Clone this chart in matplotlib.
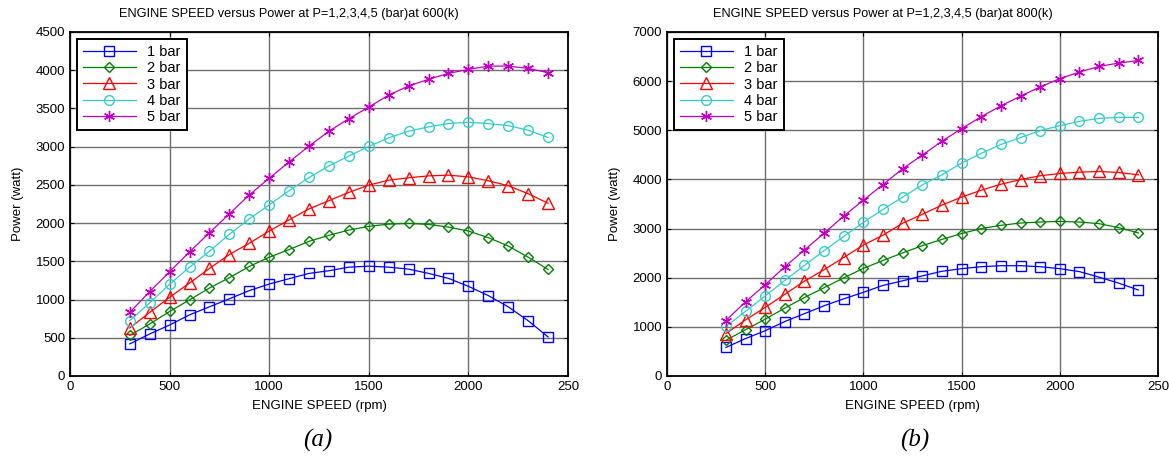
import numpy as np
import matplotlib
matplotlib.use('Agg')
import matplotlib.pyplot as plt

plt.rcParams['font.family'] = ['Liberation Sans', 'DejaVu Sans']

# 转速 (rpm)
speed = list(range(300, 2500, 100))

# (a) 600(k)
p1_a = [420, 550, 667, 800, 905, 1010, 1117, 1203, 1273, 1342, 1377, 1424,
        1437, 1424, 1398, 1342, 1277, 1173, 1052, 905, 723, 511]
p2_a = [530, 680, 844, 996, 1151, 1286, 1433, 1554, 1654, 1762, 1840, 1909,
        1957, 1987, 1996, 1983, 1948, 1896, 1810, 1701, 1554, 1394]
p3_a = [628, 831, 1030, 1216, 1407, 1589, 1736, 1896, 2043, 2186, 2294, 2402,
        2497, 2562, 2593, 2618, 2627, 2605, 2554, 2489, 2385, 2260]
p4_a = [723, 957, 1199, 1424, 1632, 1853, 2056, 2238, 2424, 2597, 2748, 2878,
        3003, 3116, 3202, 3259, 3302, 3319, 3302, 3276, 3215, 3120]
p5_a = [831, 1104, 1364, 1623, 1874, 2121, 2368, 2588, 2800, 3008, 3202, 3367,
        3518, 3674, 3795, 3881, 3959, 4011, 4054, 4054, 4024, 3968]

# (b) 800(k)
p1_b = [581, 762, 922, 1109, 1269, 1430, 1570, 1703, 1844, 1937, 2037, 2131,
        2184, 2224, 2244, 2244, 2224, 2184, 2124, 2011, 1890, 1750]
p2_b = [728, 942, 1156, 1383, 1597, 1797, 1997, 2191, 2351, 2505, 2652, 2779,
        2899, 3000, 3066, 3113, 3133, 3146, 3133, 3100, 3019, 2912]
p3_b = [862, 1142, 1396, 1663, 1931, 2164, 2411, 2665, 2866, 3108, 3290, 3478,
        3640, 3781, 3902, 3997, 4074, 4121, 4148, 4162, 4141, 4094]
p4_b = [1009, 1316, 1630, 1944, 2251, 2552, 2839, 3126, 3391, 3640, 3889, 4094,
        4333, 4529, 4711, 4852, 4993, 5094, 5182, 5242, 5262, 5262]
p5_b = [1129, 1510, 1857, 2224, 2565, 2906, 3254, 3579, 3896, 4219, 4495, 4778,
        5034, 5276, 5498, 5694, 5882, 6051, 6185, 6300, 6367, 6421]

labels = ['1 bar', '2 bar', '3 bar', '4 bar', '5 bar']
colors = ['#0000ff', '#008000', '#ff0000', '#33cccc', '#bf00bf']
markers = ['s', 'D', '^', 'o', (6, 2, 0)]
msizes = [7, 5.5, 8, 7, 8]
xtick_labels = ['0', '500', '1000', '1500', '2000', '250']

fig = plt.figure(figsize=(11.69, 4.57), dpi=100)
ax1 = fig.add_axes([70 / 1169, 81 / 457, 498 / 1169, 344 / 457])
ax2 = fig.add_axes([667 / 1169, 81 / 457, 491 / 1169, 344 / 457])


def draw(ax, series, ymax, ystep, title):
    for y, lab, c, m, ms in zip(series, labels, colors, markers, msizes):
        ax.plot(speed, y, color=c, marker=m, markersize=ms, markerfacecolor='none',
                markeredgecolor=c, linewidth=0.9, markeredgewidth=1.0, label=lab)
    ax.set_xlim(0, 2500)
    ax.set_ylim(0, ymax)
    ax.set_xticks(range(0, 2501, 500))
    ax.set_xticklabels(xtick_labels)
    ax.set_yticks(range(0, ymax + 1, ystep))
    ax.grid(True, color='#707070', linewidth=1.0)
    ax.tick_params(direction='in', top=True, right=True, labelsize=9.5, length=3)
    for s in ax.spines.values():
        s.set_linewidth(1.3)
    ax.set_title(title, fontsize=9.2, pad=11, x=0.439)
    ax.set_xlabel('ENGINE SPEED (rpm)', fontsize=9.5, labelpad=5)
    ax.set_ylabel('Power (watt)', fontsize=9.5, labelpad=8)
    leg = ax.legend(loc='upper left', fontsize=10.5, fancybox=False, framealpha=1,
                    edgecolor='black', borderaxespad=0.5, handlelength=3.6,
                    labelspacing=0.15, borderpad=0.4)
    leg.get_frame().set_linewidth(1.4)


draw(ax1, [p1_a, p2_a, p3_a, p4_a, p5_a], 4500, 500,
     'ENGINE SPEED versus Power at P=1,2,3,4,5 (bar)at 600(k)')
draw(ax2, [p1_b, p2_b, p3_b, p4_b, p5_b], 7000, 1000,
     'ENGINE SPEED versus Power at P=1,2,3,4,5 (bar)at 800(k)')

fig.text(318 / 1169, 1 - 440 / 457, '(a)', fontsize=18, style='italic',
         family='Liberation Serif', ha='center', va='center')
fig.text(915 / 1169, 1 - 440 / 457, '(b)', fontsize=18, style='italic',
         family='Liberation Serif', ha='center', va='center')

fig.savefig('out.png', dpi=100)
